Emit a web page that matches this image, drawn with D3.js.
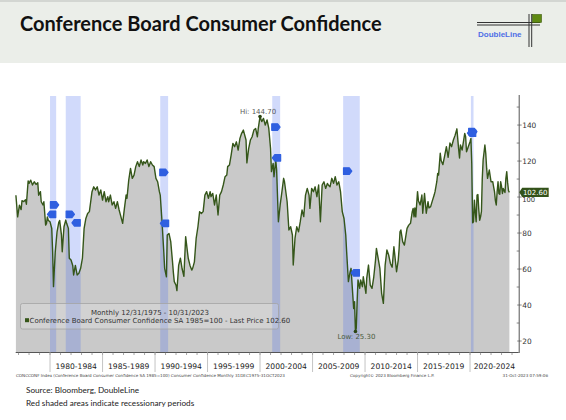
<!DOCTYPE html>
<html>
<head>
<meta charset="utf-8">
<script src="https://cdn.jsdelivr.net/npm/d3@7"></script>
<style>
body { margin: 0; background: #fff; }
svg { display: block; }
.bb { font-family: "DejaVu Sans", Verdana, sans-serif; }
.cal { font-family: Lato, "Open Sans", sans-serif; }
</style>
</head>
<body>
<div id="chart"></div>
<script>
// monthly readings of the index (month, value)
const confidence = [
  ["1976-10", 101], ["1976-12", 89], ["1977-02", 95.5], ["1977-04", 93], ["1977-05", 98], ["1977-07", 97.5],
  ["1977-09", 98.5], ["1977-10", 96], ["1977-12", 109], ["1978-01", 107.6], ["1978-03", 109.4], ["1978-05", 106.7],
  ["1978-07", 108.5], ["1978-09", 107], ["1978-11", 108], ["1978-12", 101], ["1979-02", 103], ["1979-03", 97.4],
  ["1979-05", 95.6], ["1979-06", 97.4], ["1979-08", 84.4], ["1979-09", 85.4], ["1979-10", 89], ["1979-11", 87],
  ["1980-01", 86.3], ["1980-03", 82.6], ["1980-04", 69.6], ["1980-05", 50.2], ["1980-06", 60.4], ["1980-07", 69.6],
  ["1980-09", 80.7], ["1980-11", 86], ["1980-12", 87], ["1981-02", 79], ["1981-03", 69.6], ["1981-05", 83.5],
  ["1981-07", 87.2], ["1981-08", 85.4], ["1981-10", 82.6], ["1981-11", 66], ["1982-01", 65], ["1982-03", 62],
  ["1982-04", 56.7], ["1982-06", 62], ["1982-08", 56.7], ["1982-10", 57.6], ["1982-12", 60.4], ["1983-02", 66],
  ["1983-04", 82.6], ["1983-06", 88.1], ["1983-08", 90.9], ["1983-10", 91.9], ["1983-11", 95.6], ["1984-01", 103],
  ["1984-03", 105.7], ["1984-05", 103.9], ["1984-07", 105.7], ["1984-09", 101.1], ["1984-11", 103.9], ["1985-01", 98.3],
  ["1985-03", 103], ["1985-05", 97.4], ["1985-07", 100.2], ["1985-08", 97.4], ["1985-10", 101.1], ["1985-12", 95.6],
  ["1986-02", 97.4], ["1986-04", 93.7], ["1986-06", 97.4], ["1986-08", 92.8], ["1986-10", 89.1], ["1986-12", 85.4],
  ["1987-02", 93.7], ["1987-04", 101.1], ["1987-05", 99.3], ["1987-07", 109.4], ["1987-09", 115.9], ["1987-11", 110.4],
  ["1988-01", 112.2], ["1988-03", 116.9], ["1988-05", 119.6], ["1988-07", 116.9], ["1988-09", 120.6], ["1988-11", 117.8],
  ["1988-12", 119.6], ["1989-02", 118.7], ["1989-04", 120.6], ["1989-06", 116.9], ["1989-08", 119.6], ["1989-10", 117.8],
  ["1989-12", 116.9], ["1990-02", 110.4], ["1990-04", 108.5], ["1990-06", 103], ["1990-07", 101.1], ["1990-09", 86.3],
  ["1990-11", 69.6], ["1990-12", 60.4], ["1991-02", 55.7], ["1991-03", 78.9], ["1991-05", 79.8], ["1991-07", 75.2],
  ["1991-09", 64], ["1991-10", 58], ["1991-11", 53], ["1992-01", 51], ["1992-02", 48], ["1992-04", 62],
  ["1992-06", 66], ["1992-08", 60], ["1992-10", 56], ["1992-12", 78], ["1993-02", 69.6], ["1993-03", 66],
  ["1993-05", 62], ["1993-07", 59.4], ["1993-08", 60.4], ["1993-10", 64], ["1993-12", 77], ["1994-02", 83.5],
  ["1994-04", 91.9], ["1994-06", 90.9], ["1994-08", 91.9], ["1994-10", 101.1], ["1994-12", 103], ["1995-02", 99.3],
  ["1995-04", 103], ["1995-05", 100.2], ["1995-07", 102], ["1995-09", 95.6], ["1995-11", 101.1], ["1996-01", 90],
  ["1996-03", 101.1], ["1996-05", 103], ["1996-07", 106.7], ["1996-09", 111.3], ["1996-11", 112.2], ["1996-12", 116.9],
  ["1997-02", 117.8], ["1997-04", 123.3], ["1997-06", 129.8], ["1997-08", 128], ["1997-10", 130.7], ["1997-12", 126.1],
  ["1998-02", 132.6], ["1998-04", 135.4], ["1998-06", 137.2], ["1998-07", 135.4], ["1998-09", 131.7], ["1998-10", 119],
  ["1998-12", 126.9], ["1999-02", 131.7], ["1999-04", 133.5], ["1999-06", 137.2], ["1999-08", 138.1], ["1999-10", 133.5],
  ["1999-11", 138.1], ["2000-01", 144.7], ["2000-03", 141.9], ["2000-05", 143.7], ["2000-07", 140], ["2000-09", 142.8],
  ["2000-11", 138.1], ["2001-01", 127], ["2001-02", 114.1], ["2001-04", 118.7], ["2001-05", 111.3], ["2001-07", 120.6],
  ["2001-08", 115], ["2001-09", 100], ["2001-10", 86.3], ["2001-12", 95.6], ["2002-02", 103], ["2002-04", 110.4],
  ["2002-05", 108.5], ["2002-08", 97.4], ["2002-10", 81.7], ["2002-12", 83.5], ["2003-02", 78.9], ["2003-03", 62.2],
  ["2003-05", 77], ["2003-07", 83.5], ["2003-09", 80.7], ["2003-11", 86.3], ["2004-01", 92.8], ["2004-03", 89.1],
  ["2004-05", 101.1], ["2004-07", 104.8], ["2004-09", 101.1], ["2004-10", 93.7], ["2004-12", 104.8], ["2005-02", 103],
  ["2005-04", 105.7], ["2005-06", 100.2], ["2005-08", 106.7], ["2005-10", 86.3], ["2005-12", 106.7], ["2006-02", 108.5],
  ["2006-04", 104.8], ["2006-06", 107.6], ["2006-07", 106.7], ["2006-09", 105.7], ["2006-11", 110.4], ["2007-01", 107.6],
  ["2007-03", 111.3], ["2007-05", 106.7], ["2007-07", 108.5], ["2007-09", 103], ["2007-11", 91.9], ["2008-01", 88.1],
  ["2008-03", 78.9], ["2008-04", 69.6], ["2008-06", 53], ["2008-08", 58.5], ["2008-09", 60.4], ["2008-10", 53],
  ["2008-12", 38.1], ["2009-01", 41.9], ["2009-02", 25.3], ["2009-03", 27], ["2009-04", 41.9], ["2009-05", 53.9],
  ["2009-07", 49.3], ["2009-08", 53.9], ["2009-10", 50.2], ["2009-11", 55.7], ["2010-02", 46.5], ["2010-03", 55],
  ["2010-05", 62.2], ["2010-07", 51.1], ["2010-09", 49.3], ["2010-11", 55.7], ["2011-01", 65], ["2011-02", 71.5],
  ["2011-04", 66], ["2011-06", 60.4], ["2011-08", 46.5], ["2011-10", 40.9], ["2011-12", 62.2], ["2012-02", 70.6],
  ["2012-04", 67.8], ["2012-06", 63.1], ["2012-08", 61], ["2012-10", 72.4], ["2012-11", 67.8], ["2013-01", 58.5],
  ["2013-03", 65], ["2013-04", 71.5], ["2013-05", 80.7], ["2013-06", 81.7], ["2013-08", 75.2], ["2013-10", 73.3],
  ["2014-01", 82.6], ["2014-03", 84.4], ["2014-05", 85.4], ["2014-07", 91.9], ["2014-08", 93.7], ["2014-09", 89],
  ["2014-10", 94], ["2014-11", 89], ["2015-01", 103], ["2015-02", 98], ["2015-04", 95.6], ["2015-06", 101.1],
  ["2015-07", 91], ["2015-09", 102], ["2015-11", 91], ["2016-01", 97.4], ["2016-02", 94], ["2016-04", 94.7],
  ["2016-06", 98], ["2016-08", 101.1], ["2016-09", 103], ["2016-11", 108.5], ["2016-12", 113.1], ["2017-01", 112.2],
  ["2017-03", 124.3], ["2017-04", 120.3], ["2017-06", 118], ["2017-08", 122.9], ["2017-10", 128], ["2017-12", 122.1],
  ["2018-02", 130], ["2018-04", 128], ["2018-06", 131.7], ["2018-08", 134.4], ["2018-10", 137.9], ["2018-12", 126.6],
  ["2019-01", 121.7], ["2019-02", 128.9], ["2019-04", 126.1], ["2019-07", 135.4], ["2019-08", 133.5], ["2019-09", 125.2],
  ["2019-11", 128], ["2020-01", 130.7], ["2020-02", 132.6], ["2020-03", 118.8], ["2020-04", 85.7], ["2020-05", 86.3],
  ["2020-06", 98.3], ["2020-07", 91.7], ["2020-08", 86.3], ["2020-09", 101.1], ["2020-10", 101.4], ["2020-11", 92.9],
  ["2020-12", 87.1], ["2021-01", 89], ["2021-02", 92], ["2021-03", 110], ["2021-04", 120.6], ["2021-06", 128.9],
  ["2021-07", 124.3], ["2021-08", 115.9], ["2021-09", 110.4], ["2021-11", 115], ["2022-01", 108.5], ["2022-03", 108.5],
  ["2022-04", 105.7], ["2022-05", 103], ["2022-06", 98], ["2022-07", 95.6], ["2022-08", 103], ["2022-09", 108.5],
  ["2022-10", 102], ["2022-11", 101.5], ["2022-12", 108.5], ["2023-01", 106], ["2023-02", 102], ["2023-03", 104.8],
  ["2023-04", 103.5], ["2023-05", 102.5], ["2023-06", 110.4], ["2023-07", 114.1], ["2023-08", 108], ["2023-09", 103.5],
  ["2023-10", 102.6]
];

// recessions: first month, last month
const recessions = [
  ["1980-01", "1980-07"], ["1981-07", "1982-11"], ["1990-07", "1991-03"],
  ["2001-03", "2001-11"], ["2007-12", "2009-06"], ["2020-02", "2020-04"]
];

// bloomberg event flags: month, level, pointing side
const eventFlags = [
  ["1980-06", 95.6, "r"], ["1980-03", 90.4, "l"], ["1981-12", 90.4, "r"], ["1982-07", 85.7, "l"],
  ["1990-11", 113.7, "r"], ["1990-12", 85.4, "l"], ["2001-07", 138.9, "r"], ["2001-08", 121.8, "l"],
  ["2008-05", 114.4, "r"], ["2009-02", 57.9, "l"], ["2020-04", 136.3, "r"], ["2020-03", 135.5, "l"]
];

const yTicks = [20, 40, 60, 80, 100, 120, 140];
const yMinorTicks = [30, 50, 70, 90, 110, 130, 150];
const periodStarts = [1980, 1985, 1990, 1995, 2000, 2005, 2010, 2015, 2020];
const periodLabels = ["1980-1984", "1985-1989", "1990-1994", "1995-1999", "2000-2004",
  "2005-2009", "2010-2014", "2015-2019", "2020-2024"];
const hiPoint = ["2000-01", 144.7];
const lowPoint = ["2009-02", 25.3];
const lastPrice = 102.6;

const W = 566, H = 420;
const plot = {left: 15.7, right: 518.7, top: 95, bottom: 352};
const lineColor = "#35561a";

const parseMonth = d3.timeParse("%Y-%m");
const data = confidence.map(d => ({date: parseMonth(d[0]), value: d[1]}));

const x = d3.scaleTime()
    .domain([new Date(1976, 8, 24), new Date(2024, 7, 20)])
    .range([plot.left, plot.right]);
const y = d3.scaleLinear()
    .domain([13.9, 156.7])
    .range([plot.bottom, plot.top]);

const svg = d3.select("#chart").append("svg")
    .attr("width", W)
    .attr("height", H);

// header band
svg.append("rect").attr("x", 0).attr("y", 0).attr("width", W).attr("height", 63).attr("fill", "#ebeee9");
svg.append("line").attr("x1", 0).attr("x2", W).attr("y1", 1).attr("y2", 1).attr("stroke", "#d3d6d2").attr("stroke-width", 2);

svg.append("text")
    .attr("class", "cal")
    .attr("x", 20)
    .attr("y", 31)
    .attr("font-size", 20)
    .attr("font-weight", "bold")
    .attr("fill", "#111")
    .text("Conference Board Consumer Confidence");

// DoubleLine logo
const logo = svg.append("g");
logo.append("line").attr("x1", 477).attr("x2", 540).attr("y1", 22.5).attr("y2", 22.5).attr("stroke", "#333").attr("stroke-width", 1);
logo.append("line").attr("x1", 477).attr("x2", 540).attr("y1", 25).attr("y2", 25).attr("stroke", "#333").attr("stroke-width", 1);
logo.append("line").attr("x1", 529).attr("x2", 529).attr("y1", 14).attr("y2", 47).attr("stroke", "#333").attr("stroke-width", 1);
logo.append("line").attr("x1", 531.7).attr("x2", 531.7).attr("y1", 14).attr("y2", 47).attr("stroke", "#333").attr("stroke-width", 1);
logo.append("rect").attr("x", 532.5).attr("y", 14.5).attr("width", 9).attr("height", 8).attr("fill", "#5f8a12").attr("stroke", "#3d5a0a").attr("stroke-width", 0.6);
logo.append("text")
    .attr("x", 478)
    .attr("y", 37)
    .attr("font-family", "Liberation Sans, Arial, sans-serif")
    .attr("font-size", 8)
    .attr("font-weight", "bold")
    .attr("fill", "#4f6fe6")
    .text("DoubleLine");

// plot layers
const chart = svg.append("g");

const area = d3.area()
    .x(d => x(d.date))
    .y0(plot.bottom)
    .y1(d => y(d.value));

chart.append("path")
    .datum(data)
    .attr("fill", "#c9c9c9")
    .attr("d", area);

// recession bands
chart.selectAll(".recession")
    .data(recessions)
    .enter().append("rect")
    .attr("class", "recession")
    .attr("x", d => x(parseMonth(d[0])))
    .attr("width", d => Math.max(2, x(d3.timeMonth.offset(parseMonth(d[1]), 1)) - x(parseMonth(d[0]))))
    .attr("y", plot.top + 1)
    .attr("height", plot.bottom - plot.top - 1)
    .attr("fill", "#3d64f0")
    .attr("fill-opacity", 0.24);

const line = d3.line()
    .x(d => x(d.date))
    .y(d => y(d.value));

chart.append("path")
    .datum(data)
    .attr("fill", "none")
    .attr("stroke", lineColor)
    .attr("stroke-width", 1.4)
    .attr("stroke-linejoin", "round")
    .attr("d", line);

// event flags
const flagRight = "M-4,-3.3 L1.8,-3.3 L4.3,0 L1.8,3.3 L-4,3.3 Z";
const flagLeft = "M4,-3.3 L-1.8,-3.3 L-4.3,0 L-1.8,3.3 L4,3.3 Z";
chart.selectAll(".flag")
    .data(eventFlags)
    .enter().append("path")
    .attr("class", "flag")
    .attr("transform", d => "translate(" + x(parseMonth(d[0])) + "," + y(d[1]) + ")")
    .attr("d", d => d[2] === "r" ? flagRight : flagLeft)
    .attr("fill", "#2f5fe0")
    .attr("stroke", "#2f5fe0")
    .attr("stroke-width", 1.2)
    .attr("stroke-linejoin", "round");

// hi / low annotations
[hiPoint, lowPoint].forEach(function (p) {
    chart.append("circle")
        .attr("cx", x(parseMonth(p[0])))
        .attr("cy", y(p[1]))
        .attr("r", 1.8)
        .attr("fill", "#2b4412");
});
chart.append("text")
    .attr("class", "bb")
    .attr("x", x(parseMonth(hiPoint[0])) - 2)
    .attr("y", y(hiPoint[1]) - 2.5)
    .attr("text-anchor", "middle")
    .attr("font-size", 7)
    .attr("fill", "#5a5a5a")
    .text("Hi: " + hiPoint[1].toFixed(2));
chart.append("text")
    .attr("class", "bb")
    .attr("x", x(parseMonth(lowPoint[0])) + 1)
    .attr("y", y(lowPoint[1]) + 8)
    .attr("text-anchor", "middle")
    .attr("font-size", 7)
    .attr("fill", "#4a5a3c")
    .text("Low: " + lowPoint[1].toFixed(2));

// x axis
const xAxis = svg.append("g");
xAxis.append("line")
    .attr("x1", plot.left).attr("x2", plot.right)
    .attr("y1", plot.bottom + 0.5).attr("y2", plot.bottom + 0.5)
    .attr("stroke", "#555");
const years = d3.range(1977, 2025);
xAxis.selectAll(".minor")
    .data(years)
    .enter().append("line")
    .attr("x1", d => x(new Date(d, 0, 1)))
    .attr("x2", d => x(new Date(d, 0, 1)))
    .attr("y1", plot.bottom)
    .attr("y2", plot.bottom + 3)
    .attr("stroke", "#666")
    .attr("stroke-width", 0.6);
xAxis.selectAll(".major")
    .data(periodStarts)
    .enter().append("line")
    .attr("x1", d => x(new Date(d, 0, 1)))
    .attr("x2", d => x(new Date(d, 0, 1)))
    .attr("y1", plot.bottom)
    .attr("y2", plot.bottom + 20)
    .attr("stroke", "#aaa")
    .attr("stroke-width", 0.7);
xAxis.selectAll(".period")
    .data(periodStarts)
    .enter().append("text")
    .attr("class", "bb")
    .attr("x", d => Math.min(x(new Date(d + 2, 6, 1)), (x(new Date(d, 0, 1)) + plot.right) / 2))
    .attr("y", plot.bottom + 17)
    .attr("text-anchor", "middle")
    .attr("font-size", 7.6)
    .attr("fill", "#222")
    .text((d, i) => periodLabels[i]);

// right axis
const yAxis = svg.append("g");
yAxis.append("line")
    .attr("x1", plot.right + 0.5).attr("x2", plot.right + 0.5)
    .attr("y1", plot.top).attr("y2", plot.bottom + 1)
    .attr("stroke", "#555");
yAxis.selectAll(".ytick")
    .data(yTicks)
    .enter().append("line")
    .attr("x1", plot.right - 1.5).attr("x2", plot.right + 3)
    .attr("y1", d => y(d)).attr("y2", d => y(d))
    .attr("stroke", "#555").attr("stroke-width", 0.7);
yAxis.selectAll(".yminor")
    .data(yMinorTicks)
    .enter().append("line")
    .attr("x1", plot.right - 2).attr("x2", plot.right + 0.5)
    .attr("y1", d => y(d)).attr("y2", d => y(d))
    .attr("stroke", "#555").attr("stroke-width", 0.7);
// the last-price tag sits just above the 100 label
yAxis.selectAll(".ylabel")
    .data(yTicks)
    .enter().append("text")
    .attr("class", "bb")
    .attr("x", plot.right + 3.5)
    .attr("y", d => y(d) + (d === 100 ? 5.2 : 2.6))
    .attr("font-size", d => d === 100 ? 6.8 : 7.4)
    .attr("fill", "#333")
    .text(d => d);

// last price tag
const yl = y(lastPrice);
yAxis.append("path")
    .attr("d", "M" + (plot.right + 0.5) + "," + yl + " L" + (plot.right + 3.5) + "," + (yl - 4.6) +
        " L" + (plot.right + 30) + "," + (yl - 4.6) + " L" + (plot.right + 30) + "," + (yl + 4.6) +
        " L" + (plot.right + 3.5) + "," + (yl + 4.6) + " Z")
    .attr("fill", "#33521a");
yAxis.append("text")
    .attr("class", "bb")
    .attr("x", plot.right + 4.2)
    .attr("y", yl + 2.5)
    .attr("font-size", 7)
    .attr("fill", "#fff")
    .text(lastPrice.toFixed(2));

// legend box
const legend = svg.append("g");
legend.append("rect")
    .attr("x", 20.5).attr("y", 303.5)
    .attr("width", 258).attr("height", 25.5)
    .attr("rx", 2)
    .attr("fill", "#ffffff").attr("fill-opacity", 0.18)
    .attr("stroke", "#a3a3a3").attr("stroke-width", 0.8);
legend.append("text")
    .attr("class", "bb")
    .attr("x", 150).attr("y", 315)
    .attr("text-anchor", "middle")
    .attr("font-size", 7)
    .attr("fill", "#333")
    .text("Monthly 12/31/1975 - 10/31/2023");
legend.append("rect")
    .attr("x", 25).attr("y", 318.2)
    .attr("width", 4).attr("height", 4)
    .attr("fill", lineColor);
legend.append("text")
    .attr("class", "bb")
    .attr("x", 29.5).attr("y", 323)
    .attr("font-size", 7)
    .attr("fill", "#333")
    .text("Conference Board Consumer Confidence SA 1985=100 - Last Price " + lastPrice.toFixed(2));

// bloomberg fine print
const fine = svg.append("g").attr("class", "bb").attr("font-size", 4.1).attr("fill", "#444");
fine.append("text").attr("x", 16).attr("y", 377)
    .text("CONCCONF Index  (Conference Board Consumer Confidence SA 1985=100) Consumer Confidence  Monthly 31DEC1975-31OCT2023");
fine.append("text").attr("x", 350).attr("y", 377)
    .text("Copyright\u00a9 2023 Bloomberg Finance L.P.");
fine.append("text").attr("x", 548).attr("y", 377).attr("text-anchor", "end")
    .text("31-Oct-2023 07:59:06");

// footer
svg.append("text").attr("class", "cal").attr("x", 26).attr("y", 393)
    .attr("font-size", 8.2).attr("fill", "#222")
    .text("Source: Bloomberg, DoubleLine");
svg.append("text").attr("class", "cal").attr("x", 26).attr("y", 406)
    .attr("font-size", 8.2).attr("fill", "#222")
    .text("Red shaded areas indicate recessionary periods");
</script>
</body>
</html>
